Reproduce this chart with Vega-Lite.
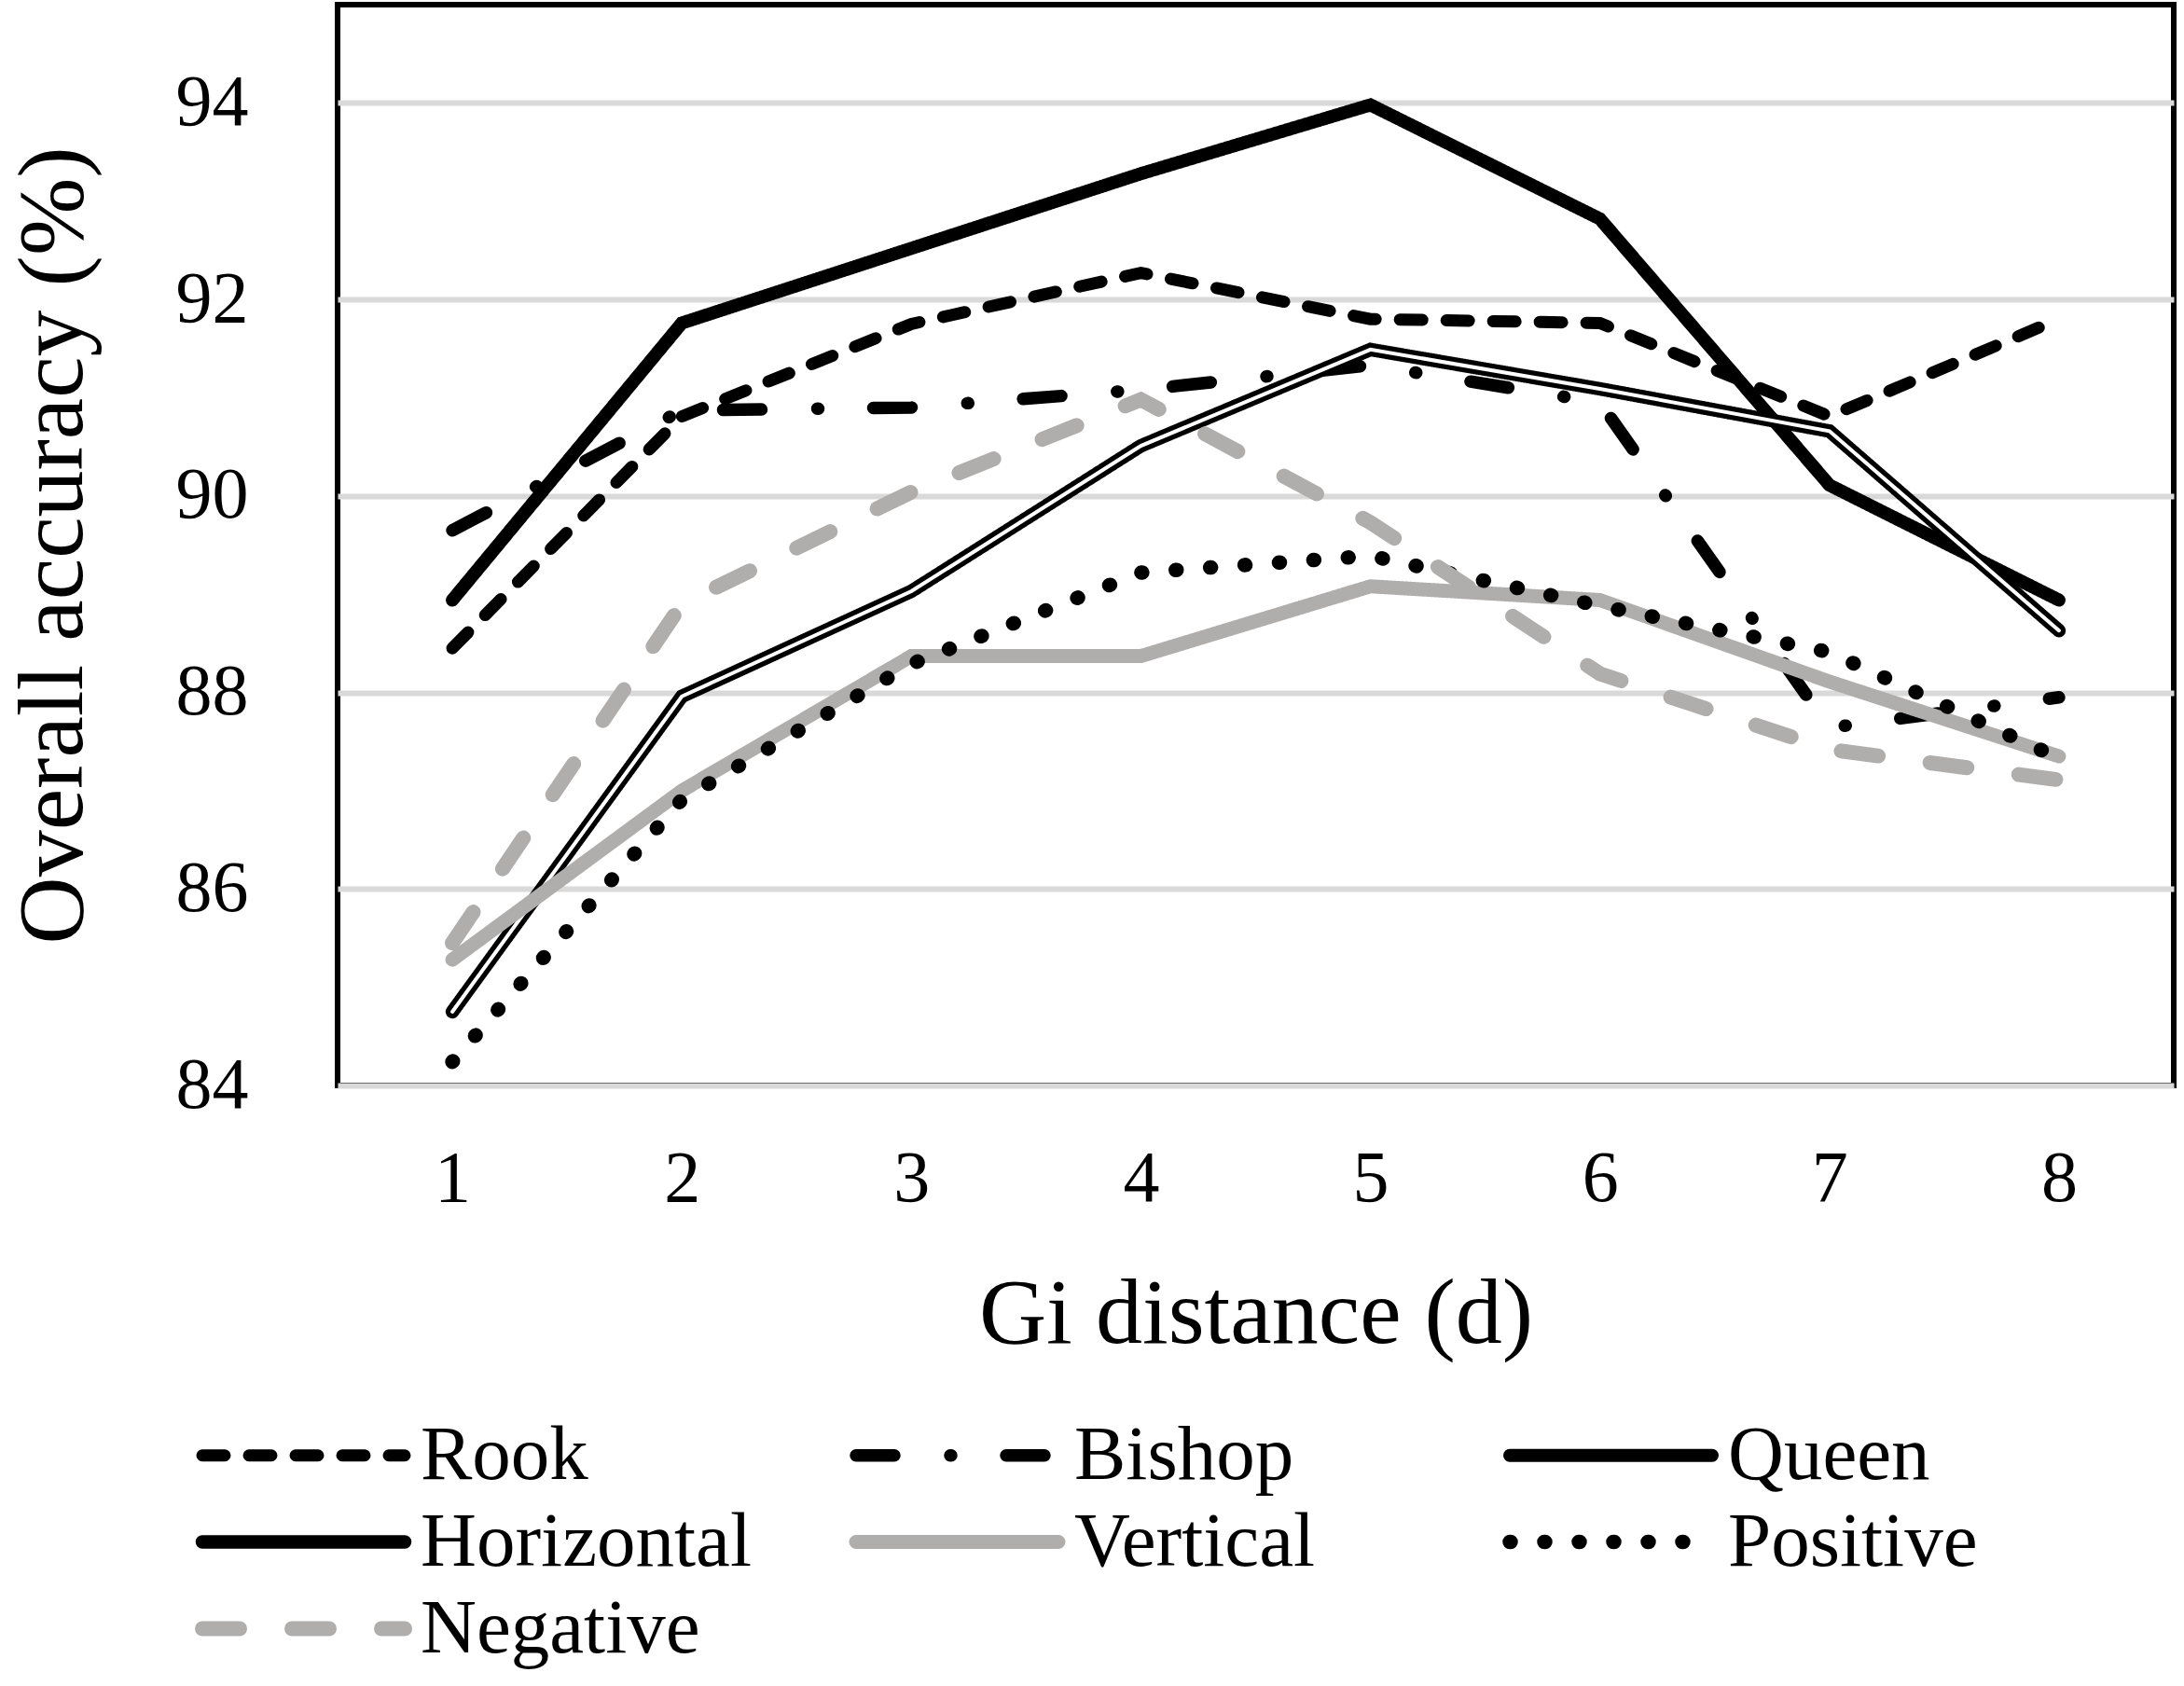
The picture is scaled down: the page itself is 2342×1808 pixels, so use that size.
{
  "$schema": "https://vega.github.io/schema/vega-lite/v6.json",
  "width": 1969,
  "height": 1159,
  "autosize": "none",
  "padding": {"left": 362, "top": 5, "right": 11, "bottom": 644},
  "background": "white",
  "datasets": {
    "acc": [
      {"d": 1, "series": "Rook", "acc": 88.45},
      {"d": 2, "series": "Rook", "acc": 90.81},
      {"d": 3, "series": "Rook", "acc": 91.75},
      {"d": 4, "series": "Rook", "acc": 92.27},
      {"d": 5, "series": "Rook", "acc": 91.8},
      {"d": 6, "series": "Rook", "acc": 91.76},
      {"d": 7, "series": "Rook", "acc": 90.81},
      {"d": 8, "series": "Rook", "acc": 91.8},
      {"d": 1, "series": "Bishop", "acc": 89.65},
      {"d": 2, "series": "Bishop", "acc": 90.87},
      {"d": 3, "series": "Bishop", "acc": 90.9},
      {"d": 4, "series": "Bishop", "acc": 91.08},
      {"d": 5, "series": "Bishop", "acc": 91.33},
      {"d": 6, "series": "Bishop", "acc": 90.95},
      {"d": 7, "series": "Bishop", "acc": 87.64},
      {"d": 8, "series": "Bishop", "acc": 87.95},
      {"d": 1, "series": "Queen", "acc": 88.94},
      {"d": 2, "series": "Queen", "acc": 91.76},
      {"d": 3, "series": "Queen", "acc": 92.52},
      {"d": 4, "series": "Queen", "acc": 93.28},
      {"d": 5, "series": "Queen", "acc": 93.98},
      {"d": 6, "series": "Queen", "acc": 92.82},
      {"d": 7, "series": "Queen", "acc": 90.11},
      {"d": 8, "series": "Queen", "acc": 88.94},
      {"d": 1, "series": "Horizontal", "acc": 84.75},
      {"d": 2, "series": "Horizontal", "acc": 87.96},
      {"d": 3, "series": "Horizontal", "acc": 89.03},
      {"d": 4, "series": "Horizontal", "acc": 90.51},
      {"d": 5, "series": "Horizontal", "acc": 91.49},
      {"d": 6, "series": "Horizontal", "acc": 91.09},
      {"d": 7, "series": "Horizontal", "acc": 90.66},
      {"d": 8, "series": "Horizontal", "acc": 88.63},
      {"d": 1, "series": "Vertical", "acc": 85.28},
      {"d": 2, "series": "Vertical", "acc": 87.0},
      {"d": 3, "series": "Vertical", "acc": 88.37},
      {"d": 4, "series": "Vertical", "acc": 88.37},
      {"d": 5, "series": "Vertical", "acc": 89.08},
      {"d": 6, "series": "Vertical", "acc": 88.94},
      {"d": 7, "series": "Vertical", "acc": 88.11},
      {"d": 8, "series": "Vertical", "acc": 87.35},
      {"d": 1, "series": "Positive", "acc": 84.24},
      {"d": 2, "series": "Positive", "acc": 86.91},
      {"d": 3, "series": "Positive", "acc": 88.29},
      {"d": 4, "series": "Positive", "acc": 89.22},
      {"d": 5, "series": "Positive", "acc": 89.39},
      {"d": 6, "series": "Positive", "acc": 88.88},
      {"d": 7, "series": "Positive", "acc": 88.41},
      {"d": 8, "series": "Positive", "acc": 87.33},
      {"d": 1, "series": "Negative", "acc": 85.45},
      {"d": 2, "series": "Negative", "acc": 88.9},
      {"d": 3, "series": "Negative", "acc": 90.04},
      {"d": 4, "series": "Negative", "acc": 90.98},
      {"d": 5, "series": "Negative", "acc": 89.73},
      {"d": 6, "series": "Negative", "acc": 88.19},
      {"d": 7, "series": "Negative", "acc": 87.42},
      {"d": 8, "series": "Negative", "acc": 87.11}
    ]
  },
  "data": {"name": "acc"},
  "encoding": {
    "x": {
      "field": "d",
      "type": "ordinal",
      "scale": {"type": "point", "padding": 0.5},
      "title": "Gi distance (d)"
    },
    "y": {
      "field": "acc",
      "type": "quantitative",
      "scale": {"domain": [84, 95], "nice": false, "zero": false},
      "axis": {"values": [84, 86, 88, 90, 92, 94]},
      "title": "Overall accuracy (%)"
    }
  },
  "layer": [
    {
      "transform": [{"filter": {"field": "series", "oneOf": ["Rook", "Bishop", "Queen", "Horizontal"]}}],
      "mark": {"type": "line", "strokeCap": "round"},
      "encoding": {
        "stroke": {
          "field": "series",
          "type": "nominal",
          "scale": {
            "domain": ["Rook", "Bishop", "Queen", "Horizontal", "Vertical", "Positive", "Negative"],
            "range": ["black", "black", "black", "black", "#b0adad", "black", "#b0adad"]
          },
          "legend": {"encode": {"symbols": {"update": {"strokeCap": {"value": "round"}}}}},
          "title": null
        },
        "strokeDash": {
          "field": "series",
          "type": "nominal",
          "scale": {
            "domain": ["Rook", "Bishop", "Queen", "Horizontal", "Vertical", "Positive", "Negative"],
            "range": [[24, 26], [41, 60, 1, 59], [1, 0], [1, 0], [1, 0], [1, 36], [40, 56]]
          },
          "title": null
        },
        "strokeWidth": {
          "field": "series",
          "type": "ordinal",
          "scale": {
            "domain": ["Rook", "Bishop", "Queen", "Horizontal", "Vertical", "Positive", "Negative"],
            "range": [13, 16, 16, 11, 14, 19, 15]
          },
          "title": null
        }
      }
    },
    {
      "transform": [{"filter": "datum.series == 'Horizontal'"}],
      "mark": {"type": "line", "stroke": "white", "strokeWidth": 4, "strokeCap": "round"},
      "encoding": {}
    },
    {
      "transform": [{"filter": {"field": "series", "oneOf": ["Vertical", "Positive", "Negative"]}}],
      "mark": {"type": "line", "strokeCap": "round"},
      "encoding": {
        "stroke": {"field": "series", "type": "nominal", "title": null},
        "strokeDash": {"field": "series", "type": "nominal", "title": null},
        "strokeWidth": {"field": "series", "type": "ordinal", "title": null}
      }
    }
  ],
  "config": {
    "font": "Liberation Serif",
    "view": {"stroke": "black", "strokeWidth": 6},
    "axis": {
      "labelFont": "Liberation Serif",
      "labelFontSize": 78,
      "labelColor": "black",
      "titleFont": "Liberation Serif",
      "titleFontSize": 100,
      "titleFontWeight": "normal",
      "titleColor": "black",
      "ticks": false,
      "domain": false
    },
    "axisY": {"gridColor": "#d9d9d9", "gridWidth": 6, "labelPadding": 96, "titlePadding": 80},
    "axisX": {"grid": false, "labelPadding": 61, "titlePadding": 57, "labelAngle": 0},
    "legend": {
      "orient": "none",
      "legendX": -78,
      "legendY": 1514,
      "direction": "horizontal",
      "columns": 3,
      "gridAlign": "all",
      "columnPadding": 81,
      "rowPadding": 9,
      "symbolType": "M-4,0H4",
      "symbolSize": 2943,
      "symbolFillColor": "transparent",
      "labelFont": "Liberation Serif",
      "labelFontSize": 83,
      "labelColor": "black",
      "labelOffset": 84,
      "labelLimit": 1000
    }
  }
}
